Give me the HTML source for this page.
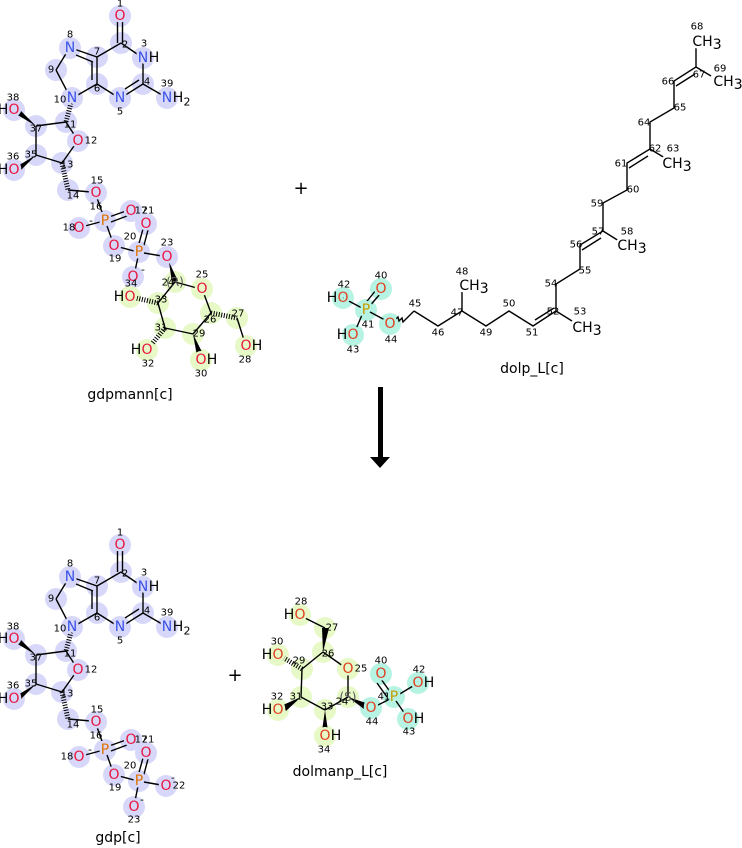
<!DOCTYPE html>
<html><head><meta charset="utf-8"><style>
html,body{margin:0;padding:0;background:#fff}
svg{display:block;font-family:"DejaVu Sans","Liberation Sans",sans-serif}
.b{stroke:#000;stroke-width:1.4;fill:none}
.h{stroke:#000;stroke-width:5;stroke-dasharray:1 1.6;fill:none}
.w{fill:#000}
.a{font-size:14px;text-anchor:middle;dominant-baseline:central;paint-order:stroke;stroke-width:5;stroke-linejoin:round}
.n{font-size:10px;text-anchor:middle;dominant-baseline:central;fill:#000}
.L{fill:#d7d7f9}.G{fill:#e6f9c6}.C{fill:#b6f3e2}
.sl{stroke:#d7d7f9}.sg{stroke:#e6f9c6}.sc{stroke:#b6f3e2}.sw{stroke:#fff}
.O{fill:#e8173f}.N{fill:#3a52e8}.P{fill:#e07000}.P2{fill:#c89a00}.K{fill:#000}
.O2{fill:#e04020}
.lab{font-size:14px;text-anchor:middle;fill:#000}
</style></head><body>
<svg width="742" height="848" viewBox="0 0 742 848" xmlns="http://www.w3.org/2000/svg">

<g id="top">
<g class="L">
<circle cx="120" cy="16" r="11"/><circle cx="121" cy="43" r="11"/><circle cx="143" cy="58" r="11"/><circle cx="143" cy="84" r="11"/><circle cx="167" cy="98" r="11"/><circle cx="120" cy="98" r="11"/><circle cx="97" cy="84" r="11"/><circle cx="97" cy="57" r="11"/><circle cx="70" cy="48" r="11"/><circle cx="56" cy="70" r="11"/><circle cx="72" cy="98" r="11"/><circle cx="66" cy="122" r="11"/><circle cx="78" cy="141" r="11"/><circle cx="62" cy="163" r="11"/><circle cx="36" cy="155" r="11"/><circle cx="36" cy="126" r="11"/><circle cx="14" cy="110" r="11"/><circle cx="14" cy="170" r="11"/><circle cx="68" cy="190" r="11"/><circle cx="96" cy="193" r="11"/>
<circle cx="105" cy="221" r="11"/><circle cx="131" cy="211" r="11"/><circle cx="146" cy="224" r="11"/><circle cx="79" cy="228" r="11"/><circle cx="114" cy="246" r="11"/><circle cx="139" cy="252" r="11"/><circle cx="133" cy="277" r="11"/><circle cx="167" cy="257" r="11"/>
</g>
<g class="G">
<circle cx="175" cy="282" r="11"/><circle cx="202" cy="289" r="11"/><circle cx="211" cy="313" r="11"/><circle cx="237" cy="318" r="11"/><circle cx="246" cy="346" r="11"/><circle cx="193" cy="334" r="11"/><circle cx="201" cy="360" r="11"/><circle cx="165" cy="328" r="11"/><circle cx="147" cy="350" r="11"/><circle cx="158" cy="303" r="11"/><circle cx="130" cy="297" r="11"/>
</g>
<g class="b">
<line x1="117.5" y1="20" x2="117.5" y2="43"/><line x1="122.5" y1="20" x2="122.5" y2="43"/>
<line x1="121" y1="43" x2="140" y2="56"/><line x1="143" y1="62" x2="143" y2="84"/>
<line x1="143" y1="84" x2="162" y2="95"/>
<line x1="143" y1="84" x2="124" y2="96"/><line x1="139" y1="80" x2="125" y2="89"/>
<line x1="116" y1="96" x2="97" y2="84"/>
<line x1="97" y1="84" x2="97" y2="57"/><line x1="92" y1="80" x2="92" y2="61"/>
<line x1="97" y1="57" x2="121" y2="43"/>
<line x1="97" y1="57" x2="74" y2="49"/><line x1="93" y1="62" x2="76" y2="55"/>
<line x1="67" y1="52" x2="56" y2="70"/><line x1="56" y1="70" x2="68" y2="93"/>
<line x1="76" y1="96" x2="97" y2="84"/>
<line x1="66" y1="122" x2="75" y2="136"/><line x1="74" y1="146" x2="62" y2="163"/>
<line x1="62" y1="163" x2="36" y2="155"/><line x1="36" y1="155" x2="36" y2="126"/><line x1="36" y1="126" x2="66" y2="122"/>
<line x1="68" y1="190" x2="91" y2="192"/>
<line x1="97" y1="198" x2="103" y2="215"/>
<line x1="109" y1="217" x2="126" y2="211"/><line x1="111" y1="222" x2="127" y2="216"/>
<line x1="100" y1="222" x2="85" y2="226"/>
<line x1="107" y1="226" x2="112" y2="240"/>
<line x1="119" y1="247" x2="134" y2="251"/>
<line x1="138" y1="247" x2="143" y2="229"/><line x1="143" y1="249" x2="148" y2="230"/>
<line x1="138" y1="257" x2="135" y2="271"/>
<line x1="144" y1="253" x2="162" y2="256"/>
<line x1="175" y1="282" x2="197" y2="288"/><line x1="204" y1="294" x2="211" y2="313"/>
<line x1="237" y1="318" x2="244" y2="340"/>
<line x1="211" y1="313" x2="193" y2="334"/><line x1="193" y1="334" x2="165" y2="328"/>
<line x1="165" y1="328" x2="158" y2="303"/><line x1="158" y1="303" x2="175" y2="282"/>
</g>
<g class="h">
<line x1="71" y1="103" x2="66" y2="122"/>
<line x1="62" y1="163" x2="68" y2="190"/>
<line x1="211" y1="313" x2="237" y2="318"/>
<line x1="165" y1="328" x2="151" y2="345"/>
<line x1="158" y1="303" x2="136" y2="298"/>
</g>
<g class="w">
<polygon points="36,126 19,109 16,114"/>
<polygon points="36,155 16,167 19,172"/>
<polygon points="169,262 172,283 178,281"/>
<polygon points="193,334 197,356 203,354"/>
</g>
<g class="a sl">
<text x="120" y="16" class="O">O</text>
<text x="143" y="58" class="N">N</text><text x="154" y="58" class="K" style="stroke:none">H</text>
<text x="167" y="98" class="N">N</text><text x="178" y="98" class="K" style="stroke:none">H</text><text x="187" y="102" class="K" style="stroke:none;font-size:11px">2</text>
<text x="120" y="98" class="N">N</text>
<text x="70" y="48" class="N">N</text>
<text x="72" y="98" class="N">N</text>
<text x="78" y="141" class="O">O</text>
<text x="14" y="110" class="O">O</text><text x="3" y="110" class="K" style="stroke:none">H</text>
<text x="14" y="170" class="O">O</text><text x="3" y="170" class="K" style="stroke:none">H</text>
<text x="96" y="193" class="O">O</text>
<text x="105" y="221" class="P">P</text>
<text x="131" y="211" class="O">O</text>
<text x="146" y="224" class="O">O</text>
<text x="79" y="228" class="O">O</text>
<text x="114" y="246" class="O">O</text>
<text x="139" y="252" class="P">P</text>
<text x="133" y="277" class="O">O</text>
<text x="167" y="257" class="O">O</text>
</g>
<g class="a sg">
<text x="202" y="289" class="O">O</text>
<text x="246" y="346" class="O">O</text><text x="257" y="346" class="K" style="stroke:none">H</text>
<text x="201" y="360" class="O">O</text><text x="212" y="360" class="K" style="stroke:none">H</text>
<text x="147" y="350" class="O">O</text><text x="136" y="350" class="K" style="stroke:none">H</text>
<text x="130" y="297" class="O">O</text><text x="119" y="297" class="K" style="stroke:none">H</text>
<text x="175" y="282" class="K" style="stroke:none;font-size:12px;fill:#555">(R)</text>
</g>
<g class="n">
<text x="120" y="4">1</text><text x="125" y="45">2</text><text x="144" y="44">3</text><text x="147" y="82">4</text><text x="167" y="84">39</text><text x="120" y="112">5</text><text x="97" y="89">6</text><text x="97" y="52">7</text><text x="70" y="35">8</text><text x="51" y="70">9</text><text x="60" y="100">10</text><text x="70" y="125">11</text><text x="91" y="141">12</text><text x="67" y="165">13</text><text x="36" y="129">37</text><text x="13" y="98">38</text><text x="31" y="155">35</text><text x="13" y="157">36</text><text x="73" y="196">14</text><text x="97" y="181">15</text><text x="96" y="207">16</text><text x="141" y="211">17</text><text x="148" y="211">21</text><text x="69" y="228">18</text><text x="115" y="259">19</text><text x="130" y="237">20</text><text x="167" y="243">23</text><text x="131" y="284">34</text><text x="168" y="283">24</text><text x="202" y="275">25</text><text x="210" y="320">26</text><text x="238" y="314">27</text><text x="245" y="360">28</text><text x="199" y="334">29</text><text x="201" y="374">30</text><text x="161" y="328">31</text><text x="148" y="364">32</text><text x="161" y="300">33</text>
</g>
<g class="K" style="font-size:11px">
<text x="89" y="224">-</text><text x="141" y="273">-</text>
</g>
</g>

<text x="130" y="399" class="lab">gdpmann[c]</text>
<text x="301" y="194" class="lab" style="font-size:18px">+</text>

<g class="C">
<circle cx="343" cy="298" r="11"/><circle cx="366" cy="310" r="11"/><circle cx="381" cy="289" r="11"/><circle cx="353" cy="335" r="11"/><circle cx="390" cy="324" r="11"/>
</g>
<g class="b">
<line x1="343" y1="298" x2="362" y2="308"/>
<line x1="364" y1="305" x2="376" y2="290"/><line x1="368" y1="308" x2="380" y2="294"/>
<line x1="362" y1="315" x2="356" y2="329"/>
<line x1="370" y1="312" x2="385" y2="320"/>
<path d="M395,320 l3,-3 l1,4 l3,-3 l1,4 l3,-3 L414,311"/>
<polyline points="414,311 438,326 462,311 486,326 509,311 533,326 556,311 556,284 580,269 580,245 603,231 603,203 627,190 627,163 650,149 650,122 674,108 674,81 696,67 696,47"/>
<line x1="535" y1="320" x2="554" y2="308"/>
<line x1="462" y1="311" x2="462" y2="292"/>
<line x1="556" y1="311" x2="572" y2="321"/>
<line x1="582" y1="250" x2="601" y2="238"/>
<line x1="603" y1="231" x2="619" y2="241"/>
<line x1="629" y1="168" x2="648" y2="156"/>
<line x1="650" y1="149" x2="665" y2="158"/>
<line x1="676" y1="86" x2="695" y2="74"/>
<line x1="696" y1="67" x2="711" y2="76"/>
</g>
<g class="a sc">
<text x="343" y="298" class="O2">O</text><text x="332" y="298" class="K" style="stroke:none">H</text>
<text x="366" y="310" class="P2">P</text>
<text x="381" y="289" class="O2">O</text>
<text x="353" y="335" class="O2">O</text><text x="342" y="335" class="K" style="stroke:none">H</text>
<text x="390" y="324" class="O2">O</text>
</g>
<g class="a sw K">
<text x="474" y="286">CH<tspan dy="3">3</tspan></text>
<text x="587" y="328">CH<tspan dy="3">3</tspan></text>
<text x="632" y="246">CH<tspan dy="3">3</tspan></text>
<text x="677" y="164">CH<tspan dy="3">3</tspan></text>
<text x="707" y="42">CH<tspan dy="3">3</tspan></text>
<text x="728" y="82">CH<tspan dy="3">3</tspan></text>
</g>
<g class="n">
<text x="344" y="285">42</text><text x="381" y="276">40</text><text x="368" y="325">41</text><text x="353" y="350">43</text><text x="391" y="340">44</text><text x="415" y="304">45</text><text x="438" y="333">46</text><text x="457" y="313">47</text><text x="462" y="272">48</text><text x="486" y="333">49</text><text x="509" y="304">50</text><text x="532" y="333">51</text><text x="553" y="312">52</text><text x="580" y="312">53</text><text x="551" y="284">54</text><text x="585" y="271">55</text><text x="576" y="245">56</text><text x="598" y="232">57</text><text x="627" y="232">58</text><text x="597" y="204">59</text><text x="633" y="190">60</text><text x="621" y="164">61</text><text x="655" y="149">62</text><text x="673" y="149">63</text><text x="644" y="123">64</text><text x="680" y="108">65</text><text x="668" y="82">66</text><text x="699" y="75">67</text><text x="697" y="27">68</text><text x="720" y="69">69</text>
</g>
<text x="532" y="373" class="lab">dolp_L[c]</text>

<rect x="378" y="387" width="5" height="72" fill="#000"/>
<polygon points="370,457 390,457 380,468" fill="#000"/>

<g transform="translate(0,529)">
<g class="L">
<circle cx="120" cy="16" r="11"/><circle cx="121" cy="43" r="11"/><circle cx="143" cy="58" r="11"/><circle cx="143" cy="84" r="11"/><circle cx="167" cy="98" r="11"/><circle cx="120" cy="98" r="11"/><circle cx="97" cy="84" r="11"/><circle cx="97" cy="57" r="11"/><circle cx="70" cy="48" r="11"/><circle cx="56" cy="70" r="11"/><circle cx="72" cy="98" r="11"/><circle cx="66" cy="122" r="11"/><circle cx="78" cy="141" r="11"/><circle cx="62" cy="163" r="11"/><circle cx="36" cy="155" r="11"/><circle cx="36" cy="126" r="11"/><circle cx="14" cy="110" r="11"/><circle cx="14" cy="170" r="11"/><circle cx="68" cy="190" r="11"/><circle cx="96" cy="193" r="11"/>
<circle cx="105" cy="221" r="11"/><circle cx="131" cy="211" r="11"/><circle cx="146" cy="224" r="11"/><circle cx="79" cy="228" r="11"/><circle cx="114" cy="246" r="11"/><circle cx="139" cy="252" r="11"/><circle cx="134" cy="278" r="11"/><circle cx="166" cy="257" r="11"/>
</g>
<g class="b">
<line x1="117.5" y1="20" x2="117.5" y2="43"/><line x1="122.5" y1="20" x2="122.5" y2="43"/>
<line x1="121" y1="43" x2="140" y2="56"/><line x1="143" y1="62" x2="143" y2="84"/>
<line x1="143" y1="84" x2="162" y2="95"/>
<line x1="143" y1="84" x2="124" y2="96"/><line x1="139" y1="80" x2="125" y2="89"/>
<line x1="116" y1="96" x2="97" y2="84"/>
<line x1="97" y1="84" x2="97" y2="57"/><line x1="92" y1="80" x2="92" y2="61"/>
<line x1="97" y1="57" x2="121" y2="43"/>
<line x1="97" y1="57" x2="74" y2="49"/><line x1="93" y1="62" x2="76" y2="55"/>
<line x1="67" y1="52" x2="56" y2="70"/><line x1="56" y1="70" x2="68" y2="93"/>
<line x1="76" y1="96" x2="97" y2="84"/>
<line x1="66" y1="122" x2="75" y2="136"/><line x1="74" y1="146" x2="62" y2="163"/>
<line x1="62" y1="163" x2="36" y2="155"/><line x1="36" y1="155" x2="36" y2="126"/><line x1="36" y1="126" x2="66" y2="122"/>
<line x1="68" y1="190" x2="91" y2="192"/>
<line x1="97" y1="198" x2="103" y2="215"/>
<line x1="109" y1="217" x2="126" y2="211"/><line x1="111" y1="222" x2="127" y2="216"/>
<line x1="100" y1="222" x2="85" y2="226"/>
<line x1="107" y1="226" x2="112" y2="240"/>
<line x1="119" y1="247" x2="134" y2="251"/>
<line x1="138" y1="247" x2="143" y2="229"/><line x1="143" y1="249" x2="148" y2="230"/>
<line x1="138" y1="257" x2="135" y2="272"/>
<line x1="144" y1="253" x2="161" y2="256"/>
</g>
<g class="h">
<line x1="71" y1="103" x2="66" y2="122"/>
<line x1="62" y1="163" x2="68" y2="190"/>
</g>
<g class="w">
<polygon points="36,126 19,109 16,114"/>
<polygon points="36,155 16,167 19,172"/>
</g>
<g class="a sl">
<text x="120" y="16" class="O">O</text>
<text x="143" y="58" class="N">N</text><text x="154" y="58" class="K" style="stroke:none">H</text>
<text x="167" y="98" class="N">N</text><text x="178" y="98" class="K" style="stroke:none">H</text><text x="187" y="102" class="K" style="stroke:none;font-size:11px">2</text>
<text x="120" y="98" class="N">N</text>
<text x="70" y="48" class="N">N</text>
<text x="72" y="98" class="N">N</text>
<text x="78" y="141" class="O">O</text>
<text x="14" y="110" class="O">O</text><text x="3" y="110" class="K" style="stroke:none">H</text>
<text x="14" y="170" class="O">O</text><text x="3" y="170" class="K" style="stroke:none">H</text>
<text x="96" y="193" class="O">O</text>
<text x="105" y="221" class="P">P</text>
<text x="131" y="211" class="O">O</text>
<text x="146" y="224" class="O">O</text>
<text x="79" y="228" class="O">O</text>
<text x="114" y="246" class="O">O</text>
<text x="139" y="252" class="P">P</text>
<text x="134" y="278" class="O">O</text>
<text x="166" y="257" class="O">O</text>
</g>
<g class="n">
<text x="120" y="4">1</text><text x="125" y="45">2</text><text x="144" y="44">3</text><text x="147" y="82">4</text><text x="167" y="84">39</text><text x="120" y="112">5</text><text x="97" y="89">6</text><text x="97" y="52">7</text><text x="70" y="35">8</text><text x="51" y="70">9</text><text x="60" y="100">10</text><text x="70" y="125">11</text><text x="91" y="141">12</text><text x="67" y="165">13</text><text x="36" y="129">37</text><text x="13" y="98">38</text><text x="31" y="155">35</text><text x="13" y="157">36</text><text x="73" y="196">14</text><text x="97" y="181">15</text><text x="96" y="207">16</text><text x="141" y="211">17</text><text x="148" y="211">21</text><text x="67" y="228">18</text><text x="115" y="259">19</text><text x="130" y="237">20</text><text x="179" y="257">22</text><text x="134" y="291">23</text>
</g>
<g class="K" style="font-size:11px">
<text x="88" y="224">-</text><text x="171" y="252">-</text><text x="140" y="274">-</text>
</g>
</g>
<text x="118" y="842" class="lab">gdp[c]</text>
<text x="235" y="681" class="lab" style="font-size:18px">+</text>

<g class="G">
<circle cx="300" cy="615" r="11"/><circle cx="325" cy="628" r="11"/><circle cx="323" cy="652" r="11"/><circle cx="348" cy="669" r="11"/><circle cx="348" cy="697" r="11"/><circle cx="325" cy="710" r="11"/><circle cx="325" cy="736" r="11"/><circle cx="301" cy="697" r="11"/><circle cx="278" cy="710" r="11"/><circle cx="302" cy="669" r="11"/><circle cx="278" cy="655" r="11"/>
</g>
<g class="C">
<circle cx="371" cy="708" r="11"/><circle cx="394" cy="697" r="11"/><circle cx="381" cy="674" r="11"/><circle cx="418" cy="683" r="11"/><circle cx="408" cy="719" r="11"/>
</g>
<g class="b">
<line x1="305" y1="618" x2="325" y2="628"/>
<line x1="323" y1="652" x2="343" y2="666"/><line x1="348" y1="675" x2="348" y2="697"/>
<line x1="376" y1="706" x2="390" y2="699"/>
<line x1="391" y1="693" x2="381" y2="679"/><line x1="387" y1="697" x2="377" y2="683"/>
<line x1="398" y1="695" x2="413" y2="686"/>
<line x1="396" y1="701" x2="405" y2="714"/>
<line x1="348" y1="697" x2="325" y2="710"/><line x1="325" y1="710" x2="301" y2="697"/>
<line x1="301" y1="697" x2="302" y2="669"/><line x1="302" y1="669" x2="323" y2="652"/>
</g>
<g class="w">
<polygon points="323,652 322,628 329,628"/>
<polygon points="348,697 366,703 364,709"/>
<polygon points="325,710 322,731 328,731"/>
<polygon points="301,697 283,705 286,711"/>
</g>
<g class="h"><line x1="302" y1="669" x2="284" y2="658"/></g>
<g class="a sg">
<text x="300" y="615" class="O2">O</text><text x="289" y="615" class="K" style="stroke:none">H</text>
<text x="348" y="669" class="O2">O</text>
<text x="325" y="736" class="O2">O</text><text x="336" y="736" class="K" style="stroke:none">H</text>
<text x="278" y="710" class="O2">O</text><text x="267" y="710" class="K" style="stroke:none">H</text>
<text x="278" y="655" class="O2">O</text><text x="267" y="655" class="K" style="stroke:none">H</text>
<text x="348" y="697" class="K" style="stroke:none;font-size:12px;fill:#555">(S)</text>
</g>
<g class="a sc">
<text x="371" y="708" class="O2">O</text>
<text x="394" y="697" class="P2">P</text>
<text x="381" y="674" class="O2">O</text>
<text x="418" y="683" class="O2">O</text><text x="429" y="683" class="K" style="stroke:none">H</text>
<text x="408" y="719" class="O2">O</text><text x="419" y="719" class="K" style="stroke:none">H</text>
</g>
<g class="n">
<text x="301" y="602">28</text><text x="332" y="628">27</text><text x="328" y="654">26</text><text x="361" y="669">25</text><text x="342" y="702">24</text><text x="327" y="707">33</text><text x="324" y="750">34</text><text x="296" y="697">31</text><text x="277" y="697">32</text><text x="299" y="661">29</text><text x="277" y="642">30</text><text x="372" y="722">44</text><text x="384" y="697">41</text><text x="381" y="661">40</text><text x="419" y="670">42</text><text x="409" y="732">43</text>
</g>
<text x="340" y="776" class="lab">dolmanp_L[c]</text>

</svg>
</body></html>
